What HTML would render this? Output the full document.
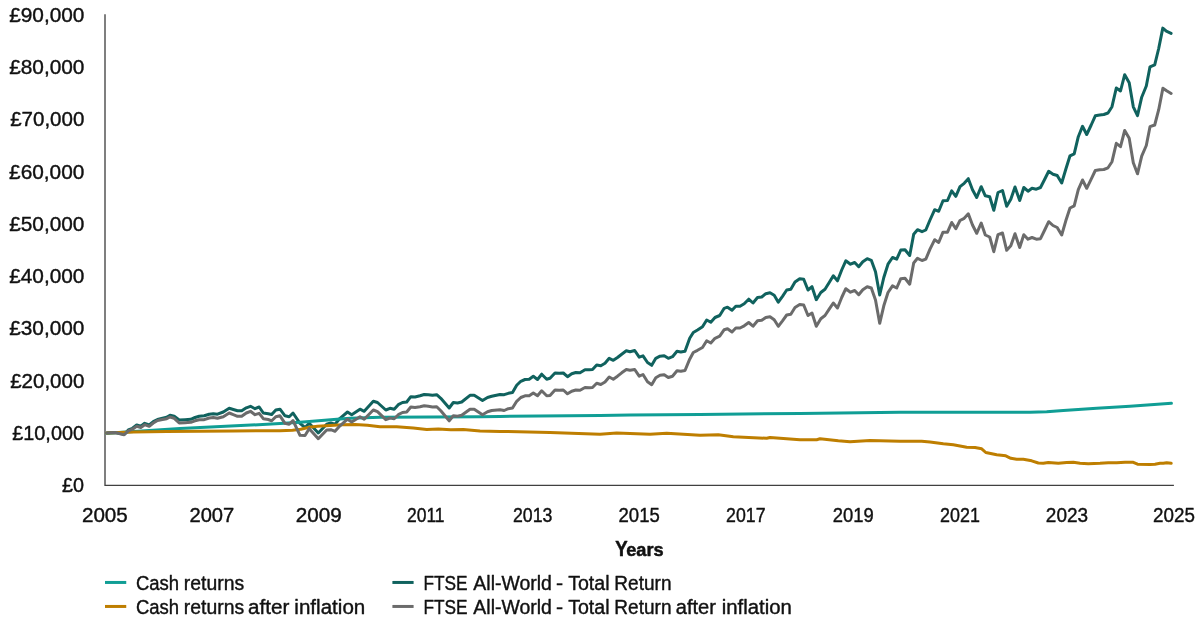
<!DOCTYPE html>
<html><head><meta charset="utf-8"><style>
html,body{margin:0;padding:0;background:#fff;}
svg{display:block;}
text{font-family:"Liberation Sans",sans-serif;fill:#111;stroke:#111;stroke-linejoin:round;}
svg{will-change:transform;}
</style></head><body>
<svg width="1200" height="624" viewBox="0 0 1200 624">
<rect width="1200" height="624" fill="#fff"/>
<path d="M105.0,14.2 V485.4 H1173.9" fill="none" stroke="#404040" stroke-width="1.33"/>
<g fill="none" stroke-width="3" stroke-linejoin="round" stroke-linecap="round">
<path d="M106.8,433.0 L115.0,432.5 L124.2,434.2 L128.3,430.0 L132.5,428.3 L136.7,425.0 L140.8,426.3 L144.7,423.3 L149.2,425.0 L153.3,421.7 L157.5,419.5 L162.5,418.3 L166.7,417.2 L170.0,415.3 L174.2,416.2 L179.2,420.0 L185.0,419.7 L190.8,419.3 L195.0,417.5 L199.2,416.3 L204.2,415.8 L209.2,414.2 L213.3,413.7 L217.5,414.2 L223.3,412.0 L229.2,408.3 L233.3,409.5 L237.5,410.8 L241.7,410.8 L246.3,407.8 L250.5,406.3 L255.0,408.7 L259.2,407.0 L263.3,413.0 L268.3,413.7 L271.7,414.5 L275.8,410.0 L280.0,409.2 L285.0,415.8 L289.2,416.7 L293.0,413.0 L300.0,423.3 L305.0,427.5 L309.2,423.3 L318.3,433.0 L326.7,424.2 L330.8,423.0 L335.0,424.2 L340.0,418.3 L347.5,412.0 L351.7,414.7 L360.0,409.2 L364.2,411.3 L373.3,401.3 L377.5,402.5 L385.8,410.0 L390.0,408.3 L394.2,409.2 L398.3,404.7 L402.5,402.5 L406.7,402.0 L410.8,396.7 L415.0,397.0 L420.0,395.8 L424.2,394.5 L428.3,394.7 L432.5,395.3 L436.7,394.7 L440.8,398.3 L449.2,408.0 L453.3,402.5 L457.5,403.0 L461.7,402.0 L470.0,395.3 L474.2,395.3 L482.5,400.5 L487.5,397.5 L491.7,396.3 L500.0,394.5 L504.2,394.7 L508.3,393.3 L512.5,392.5 L516.7,385.3 L520.8,381.3 L525.0,379.5 L529.2,379.2 L533.3,376.3 L537.5,379.5 L541.7,374.2 L546.7,379.2 L550.0,378.3 L555.0,373.0 L559.2,373.3 L563.3,373.0 L567.5,376.7 L571.7,373.7 L575.8,372.5 L580.0,372.8 L585.0,369.7 L589.2,369.7 L592.5,369.5 L596.7,365.0 L600.8,365.8 L605.0,363.3 L609.2,358.3 L613.3,360.3 L617.5,357.5 L621.7,354.2 L626.3,350.8 L630.0,351.7 L634.7,350.5 L639.2,357.2 L643.0,355.8 L647.5,362.5 L651.7,365.3 L655.8,358.3 L660.0,356.2 L664.2,355.8 L668.3,358.3 L672.5,356.7 L677.0,351.3 L680.8,352.0 L685.0,351.3 L689.7,338.3 L693.3,332.5 L697.5,330.0 L702.5,326.7 L706.7,320.0 L710.8,322.2 L715.0,317.5 L719.7,315.5 L724.2,308.3 L727.5,307.2 L732.0,310.3 L735.8,306.3 L740.0,306.2 L744.2,303.7 L748.7,299.2 L753.0,303.0 L757.5,297.5 L761.7,297.0 L765.8,293.7 L770.0,292.8 L774.2,295.3 L778.3,302.2 L782.5,296.3 L786.7,290.0 L790.8,289.2 L795.0,282.0 L799.7,278.7 L803.7,279.2 L808.0,290.0 L812.0,286.7 L816.3,299.7 L820.8,292.5 L825.0,289.2 L829.2,282.5 L833.3,275.8 L837.5,280.8 L841.7,270.0 L845.8,260.8 L850.5,264.2 L854.7,262.5 L858.7,266.7 L862.8,261.7 L867.2,258.7 L871.3,260.3 L875.5,271.7 L879.7,295.0 L883.8,277.5 L888.0,264.2 L892.5,257.5 L896.7,259.2 L900.8,250.0 L905.0,249.7 L909.7,255.5 L913.7,234.2 L917.5,229.7 L922.0,231.7 L925.8,230.0 L930.0,220.0 L934.7,209.7 L938.7,211.3 L943.0,200.8 L947.5,200.5 L951.7,190.8 L955.8,196.3 L960.0,186.7 L964.2,183.3 L968.3,178.7 L972.5,189.7 L976.7,197.5 L981.2,186.7 L985.3,195.8 L989.7,196.7 L993.8,210.3 L998.0,192.5 L1002.5,190.5 L1006.7,206.3 L1010.8,199.2 L1015.0,187.0 L1019.7,200.5 L1023.8,187.5 L1028.0,191.2 L1032.0,188.3 L1036.3,189.2 L1040.5,187.5 L1044.7,179.2 L1048.7,171.3 L1053.0,174.2 L1057.2,175.5 L1061.7,183.0 L1065.8,169.2 L1070.0,155.8 L1074.2,153.8 L1078.3,136.7 L1082.5,126.3 L1086.7,134.5 L1091.2,125.0 L1095.3,115.8 L1099.7,115.0 L1103.8,114.5 L1108.0,113.0 L1112.0,106.7 L1116.3,88.0 L1120.5,91.0 L1124.7,74.7 L1129.2,82.7 L1133.3,106.8 L1137.5,115.7 L1141.7,97.2 L1146.3,86.0 L1150.0,66.8 L1154.7,64.8 L1158.7,48.5 L1162.8,28.1 L1166.3,31.2 L1171.1,33.4" stroke="#10625e"/>
<path d="M106.8,433.2 L180.0,428.6 L280.0,423.6 L300.0,422.3 L340.0,418.9 L350.0,418.2 L380.0,417.3 L433.3,417.0 L480.0,416.8 L500.0,416.4 L600.0,415.5 L630.0,415.1 L700.0,414.6 L800.0,413.4 L900.0,412.2 L966.7,412.2 L1030.0,412.3 L1046.7,411.8 L1063.3,410.5 L1096.7,408.2 L1130.0,406.2 L1171.4,403.3" stroke="#109e95"/>
<path d="M106.8,433.0 L133.3,432.0 L166.7,431.4 L200.0,431.2 L233.3,430.9 L263.0,430.7 L280.0,430.7 L292.5,430.2 L300.8,429.2 L309.2,427.2 L317.5,426.2 L330.0,425.5 L342.5,424.8 L355.0,424.6 L367.5,425.2 L380.0,426.7 L396.7,426.8 L413.3,427.9 L426.7,429.4 L438.3,429.0 L450.8,429.8 L463.3,429.6 L480.0,431.0 L500.0,431.4 L550.0,432.5 L600.0,434.2 L616.7,433.0 L650.0,434.2 L666.7,433.3 L700.0,435.3 L718.3,434.7 L733.3,436.7 L766.7,438.3 L770.0,437.5 L800.0,439.7 L816.7,439.7 L820.0,438.8 L838.3,440.8 L850.0,441.7 L870.0,440.5 L900.0,441.3 L921.7,441.2 L930.0,442.0 L943.3,443.7 L953.3,444.7 L966.7,447.2 L975.0,447.5 L981.7,448.8 L985.8,452.5 L996.7,454.7 L1005.8,455.8 L1010.8,458.3 L1016.7,459.2 L1023.3,459.2 L1031.7,460.8 L1038.3,463.0 L1043.3,463.3 L1048.3,462.5 L1058.3,463.3 L1066.7,462.5 L1073.3,462.2 L1080.0,463.3 L1088.3,463.8 L1100.0,463.3 L1108.3,462.7 L1116.7,462.8 L1125.0,462.2 L1133.3,462.3 L1137.5,464.2 L1150.0,464.5 L1155.0,464.3 L1160.0,463.3 L1163.3,463.3 L1166.7,462.7 L1171.2,463.3" stroke="#be7e00"/>
<path d="M106.8,433.0 L115.0,432.5 L124.2,434.7 L128.3,430.8 L132.5,429.2 L136.7,426.3 L140.8,427.5 L144.7,424.7 L149.2,426.3 L153.3,423.0 L157.5,420.5 L162.5,419.5 L166.7,418.7 L170.0,417.0 L174.2,418.3 L179.2,423.0 L185.0,422.7 L190.8,422.3 L195.0,420.8 L199.2,419.7 L204.2,419.7 L209.2,418.0 L213.3,417.5 L217.5,418.3 L223.3,416.7 L229.2,413.0 L233.3,414.7 L237.5,416.3 L241.7,416.3 L246.3,413.0 L250.5,411.3 L255.0,414.7 L259.2,413.3 L263.3,418.7 L268.3,419.5 L271.7,420.8 L275.8,416.7 L280.0,415.8 L285.0,423.3 L289.2,424.3 L293.0,420.5 L300.0,435.3 L305.0,435.5 L309.2,428.7 L318.3,438.7 L326.7,430.0 L330.8,429.7 L335.0,431.3 L340.0,425.8 L347.5,419.2 L351.7,422.0 L360.0,416.7 L364.2,419.2 L373.3,410.0 L377.5,411.7 L385.8,419.7 L390.0,418.0 L394.2,418.7 L398.3,414.7 L402.5,412.5 L406.7,412.0 L410.8,407.0 L415.0,407.5 L420.0,406.7 L424.2,405.8 L428.3,406.3 L432.5,407.0 L436.7,406.7 L440.8,410.8 L449.2,420.8 L453.3,415.8 L457.5,416.3 L461.7,415.3 L470.0,409.2 L474.2,409.2 L482.5,414.7 L487.5,411.7 L491.7,410.5 L500.0,409.7 L504.2,410.5 L508.3,408.7 L512.5,408.0 L516.7,401.3 L520.8,397.5 L525.0,395.8 L529.2,395.8 L533.3,393.0 L537.5,395.8 L541.7,390.8 L546.7,395.8 L550.0,395.5 L555.0,390.0 L559.2,390.3 L563.3,390.0 L567.5,393.8 L571.7,391.2 L575.8,390.0 L580.0,390.3 L585.0,387.5 L589.2,387.8 L592.5,387.5 L596.7,383.3 L600.8,384.5 L605.0,382.0 L609.2,377.0 L613.3,379.2 L617.5,376.2 L621.7,372.8 L626.3,369.5 L630.0,370.3 L634.7,369.5 L639.2,376.2 L643.0,374.5 L647.5,381.7 L651.7,384.7 L655.8,377.8 L660.0,375.3 L664.2,374.7 L668.3,377.5 L672.5,376.2 L677.0,370.8 L680.8,371.3 L685.0,370.5 L689.7,359.2 L693.3,352.5 L697.5,350.3 L702.5,347.5 L706.7,340.8 L710.8,343.0 L715.0,338.3 L719.7,336.2 L724.2,329.7 L727.5,328.7 L732.0,332.0 L735.8,328.0 L740.0,328.0 L744.2,325.8 L748.7,322.5 L753.0,326.2 L757.5,320.8 L761.7,320.3 L765.8,317.5 L770.0,316.7 L774.2,319.7 L778.3,326.3 L782.5,320.8 L786.7,315.0 L790.8,314.2 L795.0,307.5 L799.7,304.5 L803.7,305.0 L808.0,315.5 L812.0,313.0 L816.3,326.3 L820.8,318.7 L825.0,315.5 L829.2,309.2 L833.3,303.0 L837.5,308.0 L841.7,297.5 L845.8,288.7 L850.5,292.2 L854.7,290.5 L858.7,294.7 L862.8,289.7 L867.2,286.7 L871.3,288.0 L875.5,300.0 L879.7,323.3 L883.8,305.8 L888.0,292.5 L892.5,285.8 L896.7,288.0 L900.8,278.7 L905.0,278.3 L909.7,284.2 L913.7,263.0 L917.5,258.3 L922.0,260.5 L925.8,259.2 L930.0,249.2 L934.7,239.7 L938.7,242.5 L943.0,232.2 L947.5,232.2 L951.7,222.5 L955.8,228.7 L960.0,220.5 L964.2,218.3 L968.3,213.8 L972.5,225.0 L976.7,233.3 L981.2,223.0 L985.3,235.0 L989.7,237.0 L993.8,251.7 L998.0,234.7 L1002.5,233.0 L1006.7,250.3 L1010.8,245.8 L1015.0,233.7 L1019.7,247.5 L1023.8,234.7 L1028.0,239.2 L1032.0,237.5 L1036.3,239.2 L1040.5,238.7 L1044.7,230.0 L1048.7,221.7 L1053.0,225.5 L1057.2,227.5 L1061.7,235.0 L1065.8,220.8 L1070.0,208.0 L1074.2,205.8 L1078.3,189.7 L1082.5,180.0 L1086.7,188.3 L1091.2,179.2 L1095.3,170.5 L1099.7,169.7 L1103.8,169.5 L1108.0,167.8 L1112.0,161.7 L1116.3,143.3 L1120.5,146.7 L1124.7,130.5 L1129.2,138.3 L1133.3,162.8 L1137.5,173.8 L1141.7,156.2 L1146.3,145.5 L1150.0,126.7 L1154.7,125.0 L1158.7,109.7 L1162.9,88.2 L1166.6,90.7 L1171.1,93.5" stroke="#6b6b6b"/>
</g>
<text x="61.99" y="491.9" font-size="20" font-weight="normal" stroke-width="0.4" textLength="22.00" lengthAdjust="spacingAndGlyphs">£0</text>
<text x="12.25" y="439.7" font-size="20" font-weight="normal" stroke-width="0.4" textLength="71.76" lengthAdjust="spacingAndGlyphs">£10,000</text>
<text x="10.21" y="387.5" font-size="20" font-weight="normal" stroke-width="0.4" textLength="74.10" lengthAdjust="spacingAndGlyphs">£20,000</text>
<text x="9.20" y="335.2" font-size="20" font-weight="normal" stroke-width="0.4" textLength="75.19" lengthAdjust="spacingAndGlyphs">£30,000</text>
<text x="9.20" y="283.0" font-size="20" font-weight="normal" stroke-width="0.4" textLength="75.19" lengthAdjust="spacingAndGlyphs">£40,000</text>
<text x="9.20" y="230.8" font-size="20" font-weight="normal" stroke-width="0.4" textLength="75.19" lengthAdjust="spacingAndGlyphs">£50,000</text>
<text x="9.09" y="178.6" font-size="20" font-weight="normal" stroke-width="0.4" textLength="75.27" lengthAdjust="spacingAndGlyphs">£60,000</text>
<text x="10.21" y="126.4" font-size="20" font-weight="normal" stroke-width="0.4" textLength="74.10" lengthAdjust="spacingAndGlyphs">£70,000</text>
<text x="9.20" y="74.1" font-size="20" font-weight="normal" stroke-width="0.4" textLength="75.26" lengthAdjust="spacingAndGlyphs">£80,000</text>
<text x="9.20" y="21.9" font-size="20" font-weight="normal" stroke-width="0.4" textLength="75.26" lengthAdjust="spacingAndGlyphs">£90,000</text>
<text x="81.92" y="521.7" font-size="20" font-weight="normal" stroke-width="0.4" textLength="45.89" lengthAdjust="spacingAndGlyphs">2005</text>
<text x="189.46" y="521.7" font-size="20" font-weight="normal" stroke-width="0.4" textLength="44.79" lengthAdjust="spacingAndGlyphs">2007</text>
<text x="295.74" y="521.7" font-size="20" font-weight="normal" stroke-width="0.4" textLength="45.96" lengthAdjust="spacingAndGlyphs">2009</text>
<text x="406.91" y="521.7" font-size="20" font-weight="normal" stroke-width="0.4" textLength="37.65" lengthAdjust="spacingAndGlyphs">2011</text>
<text x="512.98" y="521.7" font-size="20" font-weight="normal" stroke-width="0.4" textLength="39.41" lengthAdjust="spacingAndGlyphs">2013</text>
<text x="618.56" y="521.7" font-size="20" font-weight="normal" stroke-width="0.4" textLength="41.24" lengthAdjust="spacingAndGlyphs">2015</text>
<text x="726.07" y="521.7" font-size="20" font-weight="normal" stroke-width="0.4" textLength="39.45" lengthAdjust="spacingAndGlyphs">2017</text>
<text x="832.68" y="521.7" font-size="20" font-weight="normal" stroke-width="0.4" textLength="40.98" lengthAdjust="spacingAndGlyphs">2019</text>
<text x="940.10" y="521.7" font-size="20" font-weight="normal" stroke-width="0.4" textLength="39.79" lengthAdjust="spacingAndGlyphs">2021</text>
<text x="1045.87" y="521.7" font-size="20" font-weight="normal" stroke-width="0.4" textLength="42.19" lengthAdjust="spacingAndGlyphs">2023</text>
<text x="1153.11" y="521.7" font-size="20" font-weight="normal" stroke-width="0.4" textLength="41.79" lengthAdjust="spacingAndGlyphs">2025</text>
<text x="615.30" y="555.8" font-size="21.6" font-weight="bold" stroke-width="0.5" textLength="12.40" lengthAdjust="spacingAndGlyphs">Y</text>
<text x="626.20" y="555.8" font-size="18.7" font-weight="bold" stroke-width="0.5" textLength="37.45" lengthAdjust="spacingAndGlyphs">ears</text>
<text x="136.00" y="589.5" font-size="19.6" font-weight="normal" stroke-width="0.4" textLength="43.14" lengthAdjust="spacingAndGlyphs">Cash</text>
<text x="183.84" y="589.5" font-size="19.6" font-weight="normal" stroke-width="0.4" textLength="60.27" lengthAdjust="spacingAndGlyphs">returns</text>
<text x="136.00" y="613.6" font-size="19.6" font-weight="normal" stroke-width="0.4" textLength="43.14" lengthAdjust="spacingAndGlyphs">Cash</text>
<text x="183.84" y="613.6" font-size="19.6" font-weight="normal" stroke-width="0.4" textLength="60.27" lengthAdjust="spacingAndGlyphs">returns</text>
<text x="248.00" y="613.6" font-size="19.6" font-weight="normal" stroke-width="0.4" textLength="41.30" lengthAdjust="spacingAndGlyphs">after</text>
<text x="294.37" y="613.6" font-size="19.6" font-weight="normal" stroke-width="0.4" textLength="70.92" lengthAdjust="spacingAndGlyphs">inflation</text>
<text x="423.48" y="589.5" font-size="19.6" font-weight="normal" stroke-width="0.4" textLength="44.18" lengthAdjust="spacingAndGlyphs">FTSE</text>
<text x="473.35" y="589.5" font-size="19.6" font-weight="normal" stroke-width="0.4" textLength="78.56" lengthAdjust="spacingAndGlyphs">All-World</text>
<text x="556.00" y="589.5" font-size="19.6" font-weight="normal" stroke-width="0.4" textLength="7.09" lengthAdjust="spacingAndGlyphs">-</text>
<text x="568.13" y="589.5" font-size="19.6" font-weight="normal" stroke-width="0.4" textLength="41.39" lengthAdjust="spacingAndGlyphs">Total</text>
<text x="614.37" y="589.5" font-size="19.6" font-weight="normal" stroke-width="0.4" textLength="57.11" lengthAdjust="spacingAndGlyphs">Return</text>
<text x="423.48" y="613.6" font-size="19.6" font-weight="normal" stroke-width="0.4" textLength="44.18" lengthAdjust="spacingAndGlyphs">FTSE</text>
<text x="473.35" y="613.6" font-size="19.6" font-weight="normal" stroke-width="0.4" textLength="78.56" lengthAdjust="spacingAndGlyphs">All-World</text>
<text x="556.00" y="613.6" font-size="19.6" font-weight="normal" stroke-width="0.4" textLength="7.09" lengthAdjust="spacingAndGlyphs">-</text>
<text x="568.13" y="613.6" font-size="19.6" font-weight="normal" stroke-width="0.4" textLength="41.39" lengthAdjust="spacingAndGlyphs">Total</text>
<text x="614.37" y="613.6" font-size="19.6" font-weight="normal" stroke-width="0.4" textLength="57.11" lengthAdjust="spacingAndGlyphs">Return</text>
<text x="675.72" y="613.6" font-size="19.6" font-weight="normal" stroke-width="0.4" textLength="40.18" lengthAdjust="spacingAndGlyphs">after</text>
<text x="721.80" y="613.6" font-size="19.6" font-weight="normal" stroke-width="0.4" textLength="70.10" lengthAdjust="spacingAndGlyphs">inflation</text>
<g stroke-width="3" fill="none"><path d="M105.0,582.45 H126.25" stroke="#109e95"/><path d="M105.0,606.45 H126.25" stroke="#be7e00"/><path d="M392.4,582.45 H413.6" stroke="#10625e"/><path d="M392.4,606.45 H413.6" stroke="#6b6b6b"/></g>
</svg></body></html>
